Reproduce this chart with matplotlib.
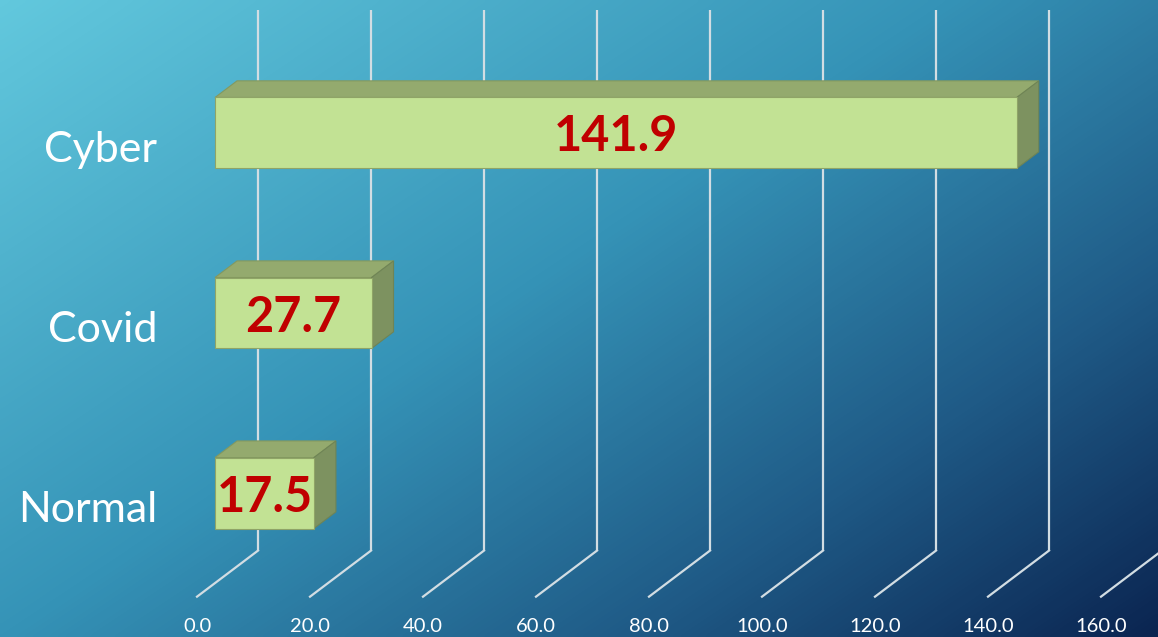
import numpy as np
import matplotlib
matplotlib.use("Agg")
from matplotlib import pyplot as plt
from matplotlib.patches import Polygon
from matplotlib.colors import LinearSegmentedColormap

# datos del grafico
categorias = ["Normal", "Covid", "Cyber"]
valores = [17.5, 27.7, 141.9]
ticks = [0, 20, 40, 60, 80, 100, 120, 140, 160]
etiquetas_ticks = [f"{t:.1f}" for t in ticks]

# geometria de la falsa perspectiva 3D
DX = 10.8      # desplazamiento en x (unidades de valor) por profundidad completa
DY = 0.256     # desplazamiento en y (unidades de categoria)
Z_FRENTE = 0.295
Z_FONDO = 0.656
MEDIA_ALTURA = 0.197
Y_SUELO = -0.5
Y_TECHO = 2.5

def proyectar(v, y, z):
    return (v + z * DX, y + z * DY)

fig = plt.figure(figsize=(11.58, 6.37), dpi=100)
ax = fig.add_axes([0, 0, 1, 1])
x0, x1 = -34.87, 170.09
y0, y1 = -0.724, 2.814
ax.set_xlim(x0, x1)
ax.set_ylim(y0, y1)
ax.axis("off")

# fondo degradado
H, W = 200, 360
xx, yy = np.meshgrid(np.linspace(0, 1, W), np.linspace(0, 1, H))
t = (xx * 0.55 + yy * 0.45)
t = (t - t.min()) / (t.max() - t.min())
cmap_fondo = LinearSegmentedColormap.from_list(
    "fondo", [(0.0, "#62c8dd"), (0.45, "#3593b7"), (0.75, "#1f5a86"), (1.0, "#0b2551")])
ax.imshow(t, cmap=cmap_fondo, extent=[x0, x1, y0, y1], origin="upper",
          aspect="auto", zorder=0, interpolation="bicubic")

# rejilla: lineas verticales al fondo y diagonales en el suelo
color_rejilla = "#d2dde3"
for v, etiqueta in zip(ticks, etiquetas_ticks):
    xa, ya = proyectar(v, Y_SUELO, 1)
    xb, yb = proyectar(v, Y_TECHO, 1)
    ax.plot([xa, xb], [ya, yb], color=color_rejilla, lw=1.6, zorder=1,
            solid_capstyle="butt")
    xc, yc = proyectar(v, Y_SUELO, 0)
    ax.plot([xc, xa], [yc, ya], color=color_rejilla, lw=1.6, zorder=1)
    ax.text(v, Y_SUELO - 0.165, etiqueta, ha="center", va="center",
            color="white", fontsize=14.5, family="Lato", zorder=5)

# barras 3D
for i, (cat, val) in enumerate(zip(categorias, valores)):
    ya, yb = i - MEDIA_ALTURA, i + MEDIA_ALTURA
    frente = [proyectar(0, ya, Z_FRENTE), proyectar(val, ya, Z_FRENTE),
              proyectar(val, yb, Z_FRENTE), proyectar(0, yb, Z_FRENTE)]
    arriba = [proyectar(0, yb, Z_FRENTE), proyectar(val, yb, Z_FRENTE),
              proyectar(val, yb, Z_FONDO), proyectar(0, yb, Z_FONDO)]
    lado = [proyectar(val, ya, Z_FRENTE), proyectar(val, yb, Z_FRENTE),
            proyectar(val, yb, Z_FONDO), proyectar(val, ya, Z_FONDO)]
    ax.add_patch(Polygon(arriba, closed=True, facecolor="#94aa6e",
                         edgecolor="#84995f", lw=0.8, zorder=3))
    ax.add_patch(Polygon(lado, closed=True, facecolor="#7d9260",
                         edgecolor="#6f8455", lw=0.8, zorder=3))
    ax.add_patch(Polygon(frente, closed=True, facecolor="#c2e294",
                         edgecolor="#8fa467", lw=0.8, zorder=4))
    cx, cy = proyectar(val / 2, i, Z_FRENTE)
    ax.text(cx, cy, f"{val:.1f}", ha="center", va="center_baseline", color="#c00000",
            fontsize=35, fontweight="bold", family="Lato", zorder=6)
    ax.text(-7.0, i, cat, ha="right", va="center_baseline", color="white",
            fontsize=31, family="Lato", zorder=5)

fig.savefig("out.png", dpi=100)
